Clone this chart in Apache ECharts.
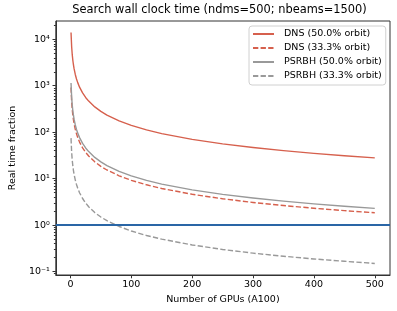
<!DOCTYPE html>
<html><head><meta charset="utf-8">
<script src="https://cdn.jsdelivr.net/npm/echarts@6/dist/echarts.min.js"></script>
<style>html,body{margin:0;padding:0;background:#fff}#c{width:397px;height:311px}</style>
</head><body><div id="c"></div>
<script>
const gpus    = [1,2,3,4,5,6,8,10,12,15,20,25,30,40,50,60,80,100,125,150,200,250,300,350,400,450,500];
const dns50   = [14000,7000,4667,3500,2800,2333,1750,1400,1167,933,700,560,467,350,280,233,175,140,112,93.3,70,56,46.7,40,35,31.1,28];
const dns33   = [920,460,306.7,230,184,153.3,115,92,76.7,61.3,46,36.8,30.7,23,18.4,15.33,11.5,9.2,7.36,6.13,4.6,3.68,3.07,2.63,2.3,2.04,1.84];
const psrbh50 = [1145,572.5,381.7,286.3,229,190.8,143.1,114.5,95.4,76.3,57.25,45.8,38.17,28.63,22.9,19.08,14.31,11.45,9.16,7.63,5.73,4.58,3.82,3.27,2.86,2.54,2.29];
const psrbh33 = [74.5,37.25,24.83,18.63,14.9,12.42,9.31,7.45,6.21,4.97,3.73,2.98,2.48,1.86,1.49,1.24,0.931,0.745,0.596,0.497,0.373,0.298,0.248,0.213,0.186,0.166,0.149];
const seriesNames = ['DNS (50.0% orbit)','DNS (33.3% orbit)','PSRBH (50.0% orbit)','PSRBH (33.3% orbit)'];
const realTimeLevel = 1;
const xTicks = [0,100,200,300,400,500];
const yTicks = [0.1,1,10,100,1000,10000];
const yTickLabels = ['10\u207B\u00B9','10\u2070','10\u00B9','10\u00B2','10\u00B3','10\u2074'];
const yMinorTicks = [0.09,0.2,0.3,0.4,0.5,0.6,0.7,0.8,0.9,2,3,4,5,6,7,8,9,20,30,40,50,60,70,80,90,200,300,400,500,600,700,800,900,2000,3000,4000,5000,6000,7000,8000,9000,20000];
const title = 'Search wall clock time (ndms=500; nbeams=1500)';
const xName = 'Number of GPUs (A100)';
const yName = 'Real time fraction';

const RED = '#d6604d', GRAY = '#999999', BLUE = '#2a66a6';
const FONT = 'DejaVu Sans';
const YMIN = 0.084, YMAX = 24800;
const dash = [5.3, 2.3];

function pts(arr){ return gpus.map((x,i)=>[x, arr[i]]); }
function mk(name, arr, color, type){
  return {name, type:'line', data:pts(arr), showSymbol:false, symbol:'none', smooth:false,
    lineStyle:{color, width:1.4, type, join:'round'}, itemStyle:{color}, animation:false, emphasis:{disabled:true}};
}
const s4 = mk(seriesNames[3], psrbh33, GRAY, dash);
s4.markLine = {silent:true, symbol:['none','none'], label:{show:false}, animation:false,
  lineStyle:{color:BLUE, width:2, type:'solid'}, emphasis:{disabled:true}, data:[{yAxis:realTimeLevel}]};

const chart = echarts.init(document.getElementById('c'), null, {renderer:'canvas'});
chart.setOption({
  animation:false,
  backgroundColor:'#fff',
  textStyle:{fontFamily:FONT},
  title:{text:title, left:219.5, top:5, padding:0, textAlign:'center',
    textStyle:{fontFamily:FONT, fontSize:11.4, fontWeight:'normal', color:'#000'}},
  legend:{orient:'vertical', left:249, top:26, padding:[2,4,3,3], itemGap:2, itemWidth:21, itemHeight:10,
    data:seriesNames, backgroundColor:'rgba(255,255,255,0.8)', borderColor:'#d0d0d0', borderWidth:1, borderRadius:3,
    itemStyle:{opacity:0},
    textStyle:{fontFamily:FONT, fontSize:9.5, color:'#000', lineHeight:12, padding:[0,0,0,5]}, selectedMode:false},
  grid:{left:49, top:21, width:341, height:254, show:true, borderColor:'#333', borderWidth:1, backgroundColor:'transparent'},
  xAxis:{type:'value', min:-24, max:525, name:xName, nameLocation:'middle', nameGap:17,
    nameTextStyle:{fontFamily:FONT, fontSize:9.5, color:'#000'},
    axisLine:{show:true, onZero:false, lineStyle:{color:'#333', width:1}},
    axisTick:{show:true, length:3.3, lineStyle:{color:'#333'}, customValues:xTicks},
    axisLabel:{fontFamily:FONT, fontSize:9.5, color:'#000', margin:5, customValues:xTicks},
    splitLine:{show:false}},
  yAxis:[{type:'log', logBase:10, min:YMIN, max:YMAX, name:yName, nameLocation:'middle', nameGap:34,
    nameTextStyle:{fontFamily:FONT, fontSize:9.5, color:'#000'},
    axisLine:{show:true, onZero:false, lineStyle:{color:'#333', width:1}},
    axisTick:{show:true, length:3.3, lineStyle:{color:'#333'}, customValues:yTicks},
    axisLabel:{fontFamily:FONT, fontSize:9.5, color:'#000', margin:6, customValues:yTicks,
      formatter:(v)=>{const k=Math.round(Math.log10(v)); const i=yTicks.findIndex(t=>Math.round(Math.log10(t))===k); return i>=0?yTickLabels[i]:'';}},
    splitLine:{show:false}, minorTick:{show:false}},
   {type:'log', logBase:10, min:YMIN, max:YMAX, position:'left',
    axisLine:{show:false, onZero:false}, axisLabel:{show:false}, splitLine:{show:false},
    axisTick:{show:true, length:1.9, lineStyle:{color:'#333'}, customValues:yMinorTicks}}],
  series:[
    mk(seriesNames[0], dns50, RED, 'solid'),
    mk(seriesNames[1], dns33, RED, dash),
    mk(seriesNames[2], psrbh50, GRAY, 'solid'),
    s4
  ]
});
</script></body></html>
